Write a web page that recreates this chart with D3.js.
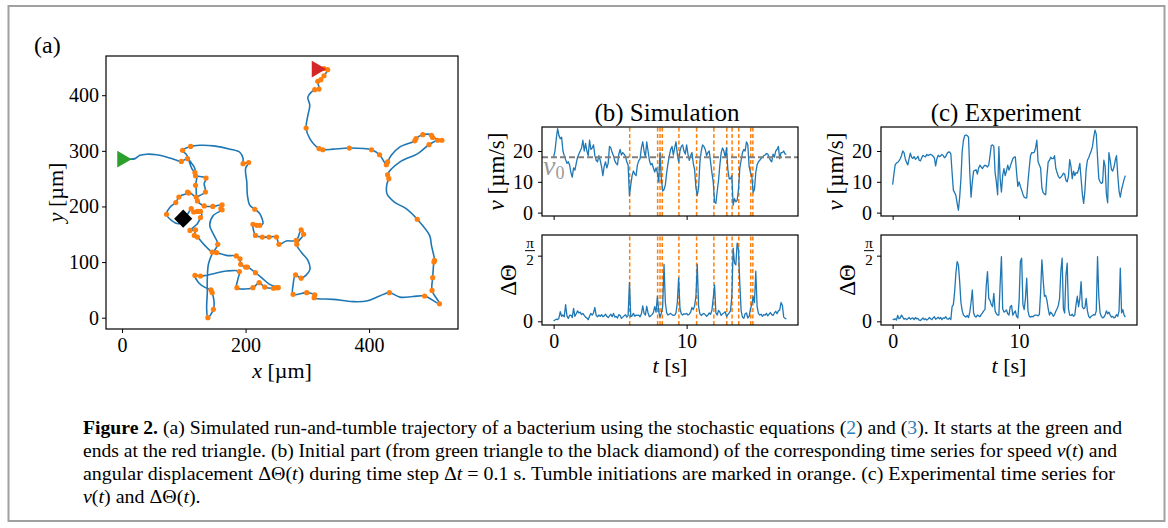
<!DOCTYPE html>
<html>
<head>
<meta charset="utf-8">
<script src="https://cdn.jsdelivr.net/npm/d3@7"></script>
<style>
	body { margin: 0; background: #fff; }
	svg { display: block; }
</style>
</head>
<body>
<div id="figure"></div>
<script>
// ---------- data ----------
const dt = 0.1 // sampling step of all time series [s]
const v0 = 18 // mean run speed [um/s]

// trajectory (a): [x um, y um, tumble start? 1/0]
const trajectory = [
	[0, 285, 0], [12, 285, 0], [21, 286, 0], [29, 292, 0], [40, 294, 0], [56, 293, 0], [72, 289, 0], [86, 284, 0],
	[96, 281, 1], [106, 286, 1], [113, 277, 0], [118, 268, 0], [118, 261, 1], [119, 255, 1], [126, 254, 0],
	[136, 251, 1], [133, 241, 0], [135, 226, 1], [126, 220, 0], [120, 217, 1], [112, 223, 0], [106, 226, 1],
	[108, 224, 1], [99, 221, 0], [92, 217, 1], [87, 207, 1], [78, 199, 0], [72, 186, 1], [80, 175, 0], [92, 169, 0],
	[99, 178, 0], [106, 186, 0], [112, 196, 1], [116, 190, 1], [122, 191, 1], [127, 191, 1], [129, 184, 0],
	[127, 180, 1], [122, 169, 0], [110, 157, 1], [119, 158, 1], [117, 148, 1], [122, 145, 1], [134, 130, 0],
	[146, 118, 1], [153, 117, 1], [169, 112, 0], [185, 111, 1], [191, 106, 1], [192, 96, 1], [200, 91, 1],
	[203, 91, 1], [216, 81, 1], [228, 70, 0], [239, 60, 0], [253, 54, 1], [250, 54, 1], [245, 53, 1], [231, 55, 1],
	[222, 63, 1], [212, 54, 1], [186, 54, 1], [188, 71, 0], [190, 83, 1], [169, 84, 0], [148, 79, 0], [127, 75, 1],
	[118, 76, 1], [124, 63, 0], [135, 54, 0], [144, 50, 1], [146, 45, 1], [149, 28, 0], [148, 15, 1], [139, 0, 1],
	[137, 17, 0], [138, 44, 0], [138, 70, 0], [140, 97, 0], [146, 115, 0], [155, 132, 1], [149, 148, 0],
	[142, 166, 0], [148, 184, 0], [162, 194, 1], [160, 196, 1], [162, 203, 1], [147, 200, 1], [133, 201, 1],
	[122, 210, 1], [120, 232, 0], [119, 238, 1], [121, 256, 0], [113, 268, 0], [105, 292, 0], [98, 301, 1],
	[111, 308, 1], [126, 310, 0], [148, 309, 0], [175, 303, 0], [191, 297, 0], [196, 286, 0], [196, 277, 1],
	[205, 279, 1], [200, 268, 0], [202, 244, 0], [203, 220, 0], [207, 202, 0], [215, 195, 1], [223, 187, 0],
	[228, 169, 0], [223, 166, 1], [218, 166, 1], [212, 168, 1], [213, 157, 0], [216, 148, 1], [227, 145, 1],
	[238, 145, 1], [250, 145, 1], [254, 132, 1], [266, 138, 0], [282, 139, 1], [290, 158, 1], [294, 150, 1],
	[283, 132, 1], [290, 118, 0], [301, 103, 0], [304, 86, 0], [290, 71, 1], [281, 77, 1], [277, 59, 0],
	[277, 42, 1], [299, 45, 1], [312, 41, 1], [311, 36, 1], [342, 33, 0], [374, 29, 0], [396, 30, 0], [417, 39, 0],
	[433, 45, 1], [450, 37, 0], [471, 38, 0], [490, 39, 1], [514, 25, 1], [502, 49, 1], [503, 72, 1], [505, 100, 1],
	[506, 103, 1], [501, 130, 0], [498, 148, 0], [478, 177, 1], [460, 196, 0], [441, 208, 0], [429, 223, 0],
	[429, 241, 0], [432, 250, 1], [430, 257, 1], [450, 280, 0], [479, 295, 0], [497, 311, 1], [511, 319, 1],
	[518, 319, 1], [503, 324, 1], [501, 328, 1], [487, 329, 1], [476, 322, 1], [474, 318, 1], [450, 307, 0],
	[436, 292, 0], [430, 280, 1], [428, 275, 1], [417, 293, 1], [404, 302, 1], [368, 305, 1], [342, 303, 0],
	[325, 302, 1], [319, 304, 1], [304, 322, 0], [298, 341, 1], [301, 364, 0], [304, 382, 0], [301, 397, 0],
	[312, 410, 1], [319, 411, 1], [317, 425, 1], [322, 428, 1], [327, 435, 1], [333, 446, 1], [327, 448, 1],
	[315, 447, 0],
]
const diamondPoint = [99, 178] // end of the part shown in (b)

// (b) simulation, speed [um/s] and angular displacement [rad]
const simSpeed = [
	18.1, 20, 24, 27.3, 25, 24, 24.5, 20, 18.5, 17.2,
	16, 16.5, 15.5, 13, 11.5, 14.5, 13.8, 16, 18, 19,
	20, 21, 23.5, 20, 22.5, 20, 18.5, 23.5, 20.5, 21,
	22, 18.5, 17, 16.5, 18.5, 17, 15, 12, 15, 16.5,
	14.5, 16, 21.5, 21, 19.5, 18.5, 16.8, 16, 15.5, 19,
	20.5, 18.7, 19.5, 19, 18.3, 16.5, 15.5, 5.5, 9, 12,
	13.5, 12.5, 12, 15.5, 16.8, 17.5, 21, 23, 20, 18,
	23, 20, 17, 15.5, 16, 14.5, 13.2, 14.5, 13, 10,
	19.5, 11, 7, 7.5, 9, 13, 16, 18.5, 20.5, 21.5,
	18.7, 21, 23, 19, 16.5, 20, 21.5, 22, 20, 19,
	22, 19, 17, 18.5, 19.5, 16, 14, 8, 5.6, 8,
	16.5, 20, 22, 21.5, 20.5, 18.5, 19.5, 20, 16.5, 13,
	10, 3.5, 3, 7, 10.5, 15.5, 19.5, 21, 20, 18,
	21, 14, 11, 11, 12, 2.4, 4.5, 3.5, 4, 7.5,
	14.5, 17, 19.5, 20.5, 20, 23, 22, 15, 13, 12,
	6.5, 7.5, 13, 15.5, 16.5, 17, 17.6, 18, 18.5, 18.7,
	19.2, 19, 18, 17, 16.5, 19, 18, 20, 20.5, 21.5,
	17.5, 19.5, 19.5, 20, 19, 19,
]
const simTurn = [
	0.01, 0.03, 0.05, 0.04, 0.08, 0.23, 0.12, 0.15, 0.11, 0.40,
	0.13, 0.07, 0.14, 0.15, 0.09, 0.31, 0.12, 0.18, 0.25, 0.20,
	0.22, 0.16, 0.19, 0.14, 0.10, 0.08, 0.04, 0.12, 0.19, 0.15,
	0.20, 0.33, 0.14, 0.11, 0.15, 0.12, 0.16, 0.11, 0.13, 0.17,
	0.12, 0.09, 0.13, 0.17, 0.11, 0.19, 0.10, 0.12, 0.08, 0.16,
	0.14, 0.07, 0.10, 0.13, 0.16, 0.10, 0.14, 0.93, 0.11, 0.13,
	0.19, 0.12, 0.15, 0.14, 0.15, 0.11, 0.18, 0.37, 0.19, 0.15,
	0.36, 0.20, 0.11, 0.13, 0.16, 0.21, 0.35, 0.22, 0.59, 0.24,
	0.10, 0.20, 0.35, 1.36, 0.45, 0.20, 0.15, 0.17, 0.19, 0.16,
	0.14, 0.15, 0.20, 0.45, 1.03, 0.31, 0.18, 0.15, 0.18, 0.17,
	0.19, 0.15, 0.17, 0.22, 0.33, 0.28, 0.37, 0.60, 1.36, 0.35,
	0.18, 0.14, 0.17, 0.19, 0.16, 0.12, 0.15, 0.20, 0.17, 0.26,
	0.55, 0.87, 0.20, 0.15, 0.26, 0.22, 0.14, 0.18, 0.20, 0.23,
	0.12, 0.16, 0.20, 0.25, 0.60, 1.75, 1.40, 1.35, 1.87, 1.71,
	0.90, 0.25, 0.10, 0.07, 0.18, 0.20, 0.08, 0.12, 0.30, 0.40,
	0.59, 0.45, 1.20, 0.35, 0.19, 0.15, 0.17, 0.12, 0.16, 0.15,
	0.19, 0.13, 0.17, 0.21, 0.16, 0.14, 0.20, 0.24, 0.18, 0.25,
	0.27, 0.45, 0.38, 0.10, 0.07, 0.06,
]
const tumbleTimes = [5.72, 7.82, 8.0, 8.17, 9.42, 10.75, 12.05, 13.02, 13.42, 13.92, 14.82, 14.98]

// (c) experiment
const expSpeed = [
	9.1, 12.5, 15.5, 16.1, 16.3, 16.8, 17.5, 18.5, 20, 19.5,
	17.5, 16.3, 15.5, 17.5, 19.3, 18, 17.6, 18.2, 17.3, 17.7,
	18.3, 17, 16.8, 17.8, 18.6, 18.3, 18.1, 18.9, 18.5, 18.8,
	18.9, 18.7, 18.3, 17.8, 15.2, 17.5, 18.6, 18.2, 18.4, 18.9,
	18.5, 17.8, 18.2, 19.2, 19.6, 19.7, 19.1, 13, 7.3, 6.5,
	5.6, 3, 0.8, 5, 11, 20, 23.5, 25, 25.2, 25,
	24.5, 13, 5, 10, 13.5, 13.7, 13.9, 12.5, 14.5, 15.4,
	14.8, 14.3, 15, 15.4, 15.2, 14.8, 15.5, 18.5, 21.8, 22,
	21.5, 13, 10, 5.8, 21.4, 11, 6.7, 12, 14.3, 12,
	13.5, 15.4, 13.8, 15, 16.3, 17.5, 18, 18.1, 13, 8.5,
	10, 8.5, 7.3, 6, 5, 4.8, 4.8, 10, 14.5, 18.5,
	19.5, 19.4, 19.6, 21, 23.5, 16.5, 15.5, 14.5, 8, 6.5,
	6, 5.8, 12, 16.5, 17, 18, 17.5, 17.5, 18.5, 14.4,
	13, 11.8, 11.2, 11.5, 12, 12.8, 12.5, 10.5, 10, 11.8,
	17.2, 15, 11, 13.5, 12, 13, 12.8, 14, 16, 11,
	6, 3, 7, 14, 17, 17.8, 19, 20, 21.5, 24.5,
	26.8, 25.5, 18, 11, 10, 9.5, 9.8, 17, 15, 6,
	3.2, 19.5, 17, 14, 13.5, 14.8, 17, 18.5, 12, 7,
	5, 7.5, 9.2, 10.8, 12,
]
const expTurn = [
	0.05, 0.04, 0.06, 0.03, 0.14, 0.06, 0.08, 0.15, 0.10, 0.05,
	0.07, 0.04, 0.06, 0.09, 0.05, 0.07, 0.08, 0.04, 0.09, 0.06,
	0.07, 0.03, 0.02, 0.05, 0.08, 0.04, 0.06, 0.03, 0.05, 0.09,
	0.06, 0.04, 0.08, 0.11, 0.05, 0.07, 0.10, 0.06, 0.09, 0.04,
	0.08, 0.07, 0.11, 0.06, 0.05, 0.08, 0.04, 0.35, 0.40, 0.70,
	1.15, 1.43, 1.35, 0.95, 0.45, 0.25, 0.15, 0.12, 0.10, 0.14,
	0.09, 0.22, 0.45, 0.75, 0.20, 0.12, 0.10, 0.15, 0.13, 0.11,
	0.16, 0.20, 0.25, 0.28, 0.85, 1.19, 0.55, 0.50, 0.40, 0.35,
	0.67, 0.25, 0.18, 0.15, 0.15, 0.90, 1.55, 0.30, 0.22, 0.24,
	0.27, 0.18, 0.15, 0.35, 0.38, 0.15, 0.20, 0.25, 0.12, 0.08,
	0.50, 1.43, 1.51, 0.40, 0.28, 0.55, 1.03, 0.25, 0.12, 0.10,
	0.12, 0.11, 0.14, 0.15, 0.15, 0.13, 0.16, 0.70, 1.47, 1.00,
	0.60, 0.62, 0.50, 0.30, 0.15, 0.22, 0.18, 0.12, 0.16, 0.24,
	0.30, 0.38, 0.55, 1.20, 1.51, 0.30, 0.20, 1.10, 1.39, 0.30,
	0.15, 0.14, 0.17, 0.12, 0.15, 0.40, 0.60, 0.35, 0.55, 0.95,
	0.35, 0.30, 0.32, 0.55, 0.25, 0.12, 0.08, 0.12, 0.14, 0.16,
	0.15, 0.25, 1.55, 0.60, 0.20, 0.12, 0.08, 0.10, 0.15, 0.25,
	0.18, 0.22, 0.15, 0.10, 0.12, 0.08, 0.10, 0.16, 0.12, 0.25,
	1.27, 0.20, 0.28, 0.15, 0.10,
]

// tick values
const trajXTicks = [0, 200, 400]
const trajYTicks = [0, 100, 200, 300, 400]
const timeTicks = [0, 10]
const speedTicks = [0, 10, 20]
const turnTicks = [0, Math.PI / 2]

// caption, as [text, style] runs per line
const captionLines = [
	[["Figure 2.", "b"], [" (a) Simulated run-and-tumble trajectory of a bacterium using the stochastic equations  (", ""], ["2", "link"], [") and (", ""], ["3", "link"], ["). It starts at the green and", ""]],
	[["ends at the red triangle. (b) Initial part (from green triangle to the black diamond) of the corresponding time series for speed ", ""], ["v", "i"], ["(", ""], ["t", "i"], [") and", ""]],
	[["angular displacement ΔΘ(", ""], ["t", "i"], [") during time step Δ", ""], ["t", "i"], [" = 0.1 s. Tumble initiations are marked in orange. (c) Experimental time series for", ""]],
	[["v", "i"], ["(", ""], ["t", "i"], [") and ΔΘ(", ""], ["t", "i"], [").", ""]],
]

// ---------- drawing ----------
const FONT = '"Liberation Serif", "Times New Roman", serif'
const BLUE = "#1f77b4"
const ORANGE = "#ff7f0e"

const svg = d3
	.select("#figure")
	.append("svg")
	.attr("width", 1168)
	.attr("height", 528)
	.attr("font-family", FONT)

// outer frame of the figure
svg.append("rect")
	.attr("x", 8.5)
	.attr("y", 6)
	.attr("width", 1156)
	.attr("height", 515)
	.attr("fill", "none")
	.attr("stroke", "#a0a0a0")
	.attr("stroke-width", 2)

function styleAxis(g, size) {
	g.attr("font-family", FONT).attr("font-size", size)
	g.select(".domain").remove()
	g.selectAll(".tick line").attr("stroke", "#000").attr("stroke-width", 1)
	g.selectAll(".tick text").attr("fill", "#000")
}

function frame(x, y) {
	svg.append("rect")
		.attr("x", x.range()[0])
		.attr("y", y.range()[1])
		.attr("width", x.range()[1] - x.range()[0])
		.attr("height", y.range()[0] - y.range()[1])
		.attr("fill", "none")
		.attr("stroke", "#000")
		.attr("stroke-width", 1.2)
}

function rotatedLabel(x, y, build) {
	const t = svg.append("text")
		.attr("transform", `translate(${x},${y}) rotate(-90)`)
		.attr("text-anchor", "middle")
		.attr("dy", "0.35em")
		.attr("font-size", 23)
	build(t)
	return t
}

// ----- panel (a): trajectory -----
const xA = d3.scaleLinear().domain([-26, 544]).range([106, 458])
const yA = d3.scaleLinear().domain([-20.3, 470.5]).range([329, 56])

svg.append("g")
	.attr("transform", `translate(0,${yA.range()[0]})`)
	.call(d3.axisBottom(xA).tickValues(trajXTicks).tickSize(4).tickPadding(5))
	.call((g) => styleAxis(g, 20))

svg.append("g")
	.attr("transform", `translate(${xA.range()[0]},0)`)
	.call(d3.axisLeft(yA).tickValues(trajYTicks).tickSize(4).tickPadding(3))
	.call((g) => styleAxis(g, 20))

const trajLine = d3
	.line()
	.x((d) => xA(d[0]))
	.y((d) => yA(d[1]))
	.curve(d3.curveCatmullRom.alpha(0.5))

svg.append("path")
	.datum(trajectory)
	.attr("d", trajLine)
	.attr("fill", "none")
	.attr("stroke", BLUE)
	.attr("stroke-width", 1.6)

svg.append("g")
	.selectAll("circle")
	.data(trajectory.filter((d) => d[2] === 1))
	.join("circle")
	.attr("cx", (d) => xA(d[0]))
	.attr("cy", (d) => yA(d[1]))
	.attr("r", 2.6)
	.attr("fill", ORANGE)

const start = trajectory[0]
const end = trajectory[trajectory.length - 1]
svg.append("path")
	.attr("d", d3.symbol(d3.symbolTriangle, 120)())
	.attr("transform", `translate(${xA(start[0])},${yA(start[1])}) rotate(90)`)
	.attr("fill", "#2ca02c")
svg.append("path")
	.attr("d", d3.symbol(d3.symbolTriangle, 120)())
	.attr("transform", `translate(${xA(end[0])},${yA(end[1])}) rotate(90)`)
	.attr("fill", "#d62728")
svg.append("path")
	.attr("d", d3.symbol(d3.symbolSquare, 165)())
	.attr("transform", `translate(${xA(diamondPoint[0])},${yA(diamondPoint[1])}) rotate(45)`)
	.attr("fill", "#000")

frame(xA, yA)

svg.append("text").attr("x", 34).attr("y", 53).attr("font-size", 24).text("(a)")

svg.append("text")
	.attr("x", (xA.range()[0] + xA.range()[1]) / 2)
	.attr("y", 378)
	.attr("text-anchor", "middle")
	.attr("font-size", 22)
	.call((t) => {
		t.append("tspan").attr("font-style", "italic").text("x")
		t.append("tspan").text(" [µm]")
	})

rotatedLabel(55, (yA.range()[0] + yA.range()[1]) / 2, (t) => {
	t.attr("font-size", 22)
	t.append("tspan").attr("font-style", "italic").text("y")
	t.append("tspan").text(" [µm]")
})

// ----- panels (b) and (c): time series -----
const vRange = [216, 127]
const thRange = [325, 235]
const vDomain = [-1.1, 27.8]
const thDomain = [-0.088, 2.065]

function drawSeries(cfg) {
	const x = d3.scaleLinear().domain(cfg.tDomain).range(cfg.xRange)
	const yV = d3.scaleLinear().domain(vDomain).range(vRange)
	const yT = d3.scaleLinear().domain(thDomain).range(thRange)
	const xMid = (cfg.xRange[0] + cfg.xRange[1]) / 2

	// title
	svg.append("text")
		.attr("x", xMid - 3)
		.attr("y", 121)
		.attr("text-anchor", "middle")
		.attr("font-size", 25)
		.text(cfg.title)

	// axes
	svg.append("g")
		.attr("transform", `translate(0,${vRange[0]})`)
		.call(d3.axisBottom(x).tickValues(timeTicks).tickSize(4).tickFormat(""))
		.call((g) => styleAxis(g, 20))
	svg.append("g")
		.attr("transform", `translate(${cfg.xRange[0]},0)`)
		.call(d3.axisLeft(yV).tickValues(speedTicks).tickSize(4).tickPadding(5))
		.call((g) => styleAxis(g, 20))
	svg.append("g")
		.attr("transform", `translate(0,${thRange[0]})`)
		.call(d3.axisBottom(x).tickValues(timeTicks).tickSize(4).tickPadding(5))
		.call((g) => styleAxis(g, 20))
	svg.append("g")
		.attr("transform", `translate(${cfg.xRange[0]},0)`)
		.call(
			d3.axisLeft(yT)
				.tickValues(turnTicks)
				.tickSize(4)
				.tickPadding(5)
				.tickFormat((d) => (d === 0 ? "0" : ""))
		)
		.call((g) => styleAxis(g, 20))

	// pi/2 as a stacked fraction
	const fx = cfg.xRange[0] - 12
	const fy = yT(Math.PI / 2)
	const frac = svg.append("g").attr("font-size", 15).attr("text-anchor", "middle")
	frac.append("text").attr("x", fx).attr("y", fy - 8).text("π")
	frac.append("line")
		.attr("x1", fx - 5).attr("x2", fx + 5)
		.attr("y1", fy - 5).attr("y2", fy - 5)
		.attr("stroke", "#000").attr("stroke-width", 1)
	frac.append("text").attr("x", fx).attr("y", fy + 9.5).text("2")

	// tumble markers
	if (cfg.tumbles) {
		;[yV, yT].forEach((y) => {
			svg.append("g")
				.selectAll("line")
				.data(cfg.tumbles)
				.join("line")
				.attr("x1", (d) => x(d))
				.attr("x2", (d) => x(d))
				.attr("y1", y.range()[0])
				.attr("y2", y.range()[1])
				.attr("stroke", ORANGE)
				.attr("stroke-width", 1.5)
				.attr("stroke-dasharray", "4,2.5")
		})
	}

	const line = (y) =>
		d3.line()
			.x((d, i) => x(i * dt))
			.y((d) => y(d))

	svg.append("path")
		.datum(cfg.speed)
		.attr("d", line(yV))
		.attr("fill", "none")
		.attr("stroke", BLUE)
		.attr("stroke-width", 1.3)
		.attr("stroke-linejoin", "round")
	svg.append("path")
		.datum(cfg.turn)
		.attr("d", line(yT))
		.attr("fill", "none")
		.attr("stroke", BLUE)
		.attr("stroke-width", 1.3)
		.attr("stroke-linejoin", "round")

	// mean speed v0
	if (cfg.showV0) {
		svg.append("line")
			.attr("x1", cfg.xRange[0])
			.attr("x2", cfg.xRange[1])
			.attr("y1", yV(v0))
			.attr("y2", yV(v0))
			.attr("stroke", "#7f7f7f")
			.attr("stroke-width", 2)
			.attr("stroke-dasharray", "6,3")
		svg.append("text")
			.attr("x", cfg.xRange[0] + 1)
			.attr("y", yV(v0) + 18)
			.attr("fill", "#9a9a9a")
			.attr("font-size", 28)
			.call((t) => {
				t.append("tspan").attr("font-style", "italic").text("v")
				t.append("tspan").attr("font-size", 18).attr("dy", 4).text("0")
			})
	}

	frame(x, yV)
	frame(x, yT)

	// axis labels
	rotatedLabel(cfg.xRange[0] - 46, (vRange[0] + vRange[1]) / 2, (t) => {
		t.append("tspan").attr("font-style", "italic").text("v")
		t.append("tspan").text(" [µm/s]")
	})
	rotatedLabel(cfg.xRange[0] - 34, (thRange[0] + thRange[1]) / 2, (t) => t.text("ΔΘ"))

	svg.append("text")
		.attr("x", xMid)
		.attr("y", 373)
		.attr("text-anchor", "middle")
		.attr("font-size", 22)
		.call((t) => {
			t.append("tspan").attr("font-style", "italic").text("t")
			t.append("tspan").text(" [s]")
		})
}

drawSeries({
	title: "(b) Simulation",
	xRange: [542, 798],
	tDomain: [-0.875, 18.375],
	speed: simSpeed,
	turn: simTurn,
	tumbles: tumbleTimes,
	showV0: true,
})

drawSeries({
	title: "(c) Experiment",
	xRange: [881, 1137],
	tDomain: [-0.92, 19.32],
	speed: expSpeed,
	turn: expTurn,
	tumbles: null,
	showV0: false,
})

// ----- caption -----
const capX = 83
const capBase = [434, 457, 480, 503]
const capWidths = [1039, 1034, 1032]
const capNodes = captionLines.map((runs, k) => {
	const t = svg.append("text")
		.attr("x", capX)
		.attr("y", capBase[k])
		.attr("font-size", 19.5)
	runs.forEach(([txt, style]) => {
		const s = t.append("tspan").text(txt)
		if (style === "b") s.attr("font-weight", "bold")
		if (style === "i") s.attr("font-style", "italic")
		if (style === "link") s.attr("fill", "#2c7fb8")
	})
	return t
})
// squeeze the lines to the narrow caption face of the original
const squeeze = capWidths[2] / capNodes[2].node().getComputedTextLength()
capNodes.forEach((t, k) => {
	const w = k < 3 ? capWidths[k] : t.node().getComputedTextLength() * squeeze
	t.attr("textLength", w).attr("lengthAdjust", "spacingAndGlyphs")
})
</script>
</body>
</html>
